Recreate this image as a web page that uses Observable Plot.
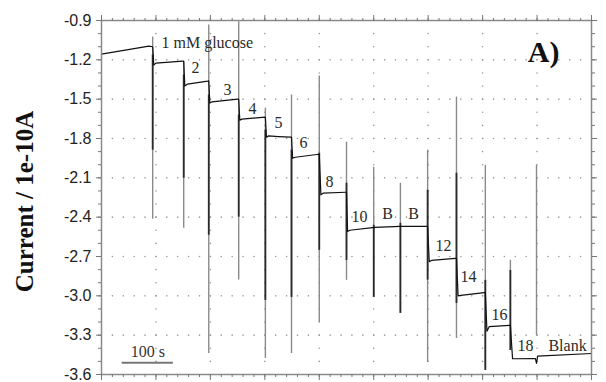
<!DOCTYPE html>
<html>
<head>
<meta charset="utf-8">
<script src="https://cdn.jsdelivr.net/npm/d3@7"></script>
<script src="https://cdn.jsdelivr.net/npm/@observablehq/plot@0.6"></script>
<style>
  html, body { margin: 0; padding: 0; background: #fff; }
  #chart { width: 606px; height: 382px; }
</style>
</head>
<body>
<div id="chart"></div>
<script>
// ---- Data (time in s, current in 1e-10 A) ----
const traceT = [0, 87, 94, 96, 100, 149, 151, 153, 158, 195, 197, 199, 203, 250, 252, 254, 258, 300, 301, 303, 307, 325, 347, 349, 351, 356, 399, 400, 403, 407, 448, 450, 452, 456, 498, 500, 502, 548, 549, 551, 597, 599, 602, 606, 650, 652, 655, 660, 703, 705, 708, 712, 749, 751, 755, 797, 799, 801, 900];
const traceI = [-1.156, -1.095, -1.10, -1.24, -1.225, -1.21, -1.21, -1.40, -1.385, -1.362, -1.36, -1.53, -1.52, -1.50, -1.50, -1.66, -1.652, -1.637, -1.64, -1.79, -1.78, -1.785, -1.79, -1.79, -1.95, -1.943, -1.92, -1.92, -2.23, -2.217, -2.21, -2.21, -2.51, -2.50, -2.48, -2.48, -2.478, -2.47, -2.47, -2.47, -2.47, -2.47, -2.74, -2.73, -2.715, -2.715, -3.00, -2.997, -2.975, -2.975, -3.27, -3.235, -3.225, -3.225, -3.48, -3.478, -3.516, -3.46, -3.44];

// injection events: spike extremes and the dark (dense) part of each spike
const eventT      = [94, 151, 197, 252, 301, 349, 400, 450, 500, 549, 599, 652, 705, 751, 799];
const spikeTop    = [-1.026, -1.217, -0.934, -0.91, -1.568, -1.469, -1.324, -1.828, -2.019, -2.141, -1.889, -1.484, -2.004, -2.729, -2.004];
const spikeBottom = [-2.416, -2.485, -3.44, -2.88, -3.478, -3.44, -3.203, -2.882, -3.012, -3.134, -3.508, -3.325, -3.569, -3.417, -3.302];
const darkTop     = [-1.163, -1.316, -1.469, -1.622, -1.736, -1.889, -1.912, -2.141, -2.462, -2.447, -2.195, -2.065, -2.882, -2.806, -3.50];
const darkBottom  = [-1.889, -2.103, -2.538, -2.40, -3.035, -3.012, -2.653, -2.73, -3.012, -3.134, -2.88, -3.058, -3.569, -3.417, -3.50];

// annotation labels
const stepLabels = ["2", "3", "4", "5", "6", "8", "10", "B", "B", "12", "14", "16", "18", "Blank"];
const stepLabelT = [172.7, 231.4, 277.4, 325.1, 371.0, 418.8, 473.9, 525.4, 573.1, 628.2, 674.1, 731.1, 778.9, 856.0];
const stepLabelI = [-1.263, -1.431, -1.576, -1.683, -1.836, -2.134, -2.401, -2.378, -2.378, -2.622, -2.859, -3.149, -3.378, -3.378];
const firstLabel = "1 mM glucose";
const firstLabelT = 110.2, firstLabelI = -1.072;
const panelLabel = "A)";
const panelLabelT = 812, panelLabelI = -1.141;

// axes
const yMajor = [-0.9, -1.2, -1.5, -1.8, -2.1, -2.4, -2.7, -3.0, -3.3, -3.6];
const yMinor = d3.range(-36, -8).map(v => v / 10);
const xMajor = d3.range(0, 901, 100);
const xMinor = d3.range(0, 901, 20);
const yLabel = "Current / 1e-10A";

// scale bar
const scaleBarText = "100 s";
const scaleBarX1 = 38, scaleBarX2 = 132, scaleBarI = -3.51, scaleBarTextI = -3.43;

// ---- derived tables ----
const trace = traceT.map((t, k) => ({t, i: traceI[k]}));
const spikes = eventT.map((t, k) => ({t, top: spikeTop[k], bottom: spikeBottom[k], dt: darkTop[k], db: darkBottom[k]}));
const labels = stepLabels.map((s, k) => ({s, t: stepLabelT[k], i: stepLabelI[k]}));
const gridDots = [];
for (const y of yMajor.slice(1, -1)) for (const x of xMinor) if (x > 0 && x < 900 && x % 100 !== 0) gridDots.push({x, y});
for (const x of xMajor.slice(1, -1)) for (const y of yMinor) if (y > -3.6 && y < -0.9) gridDots.push({x, y});
for (const x of xMajor.slice(1, -1)) for (const y of yMajor.slice(1, -1)) gridDots.push({x, y});

const serif = "'Liberation Serif', 'Times New Roman', serif";
const sans = "'Liberation Sans', Arial, sans-serif";

const chart = Plot.plot({
  width: 606,
  height: 382,
  marginLeft: 101,
  marginRight: 15,
  marginTop: 20,
  marginBottom: 8,
  x: {domain: [0, 900]},
  y: {domain: [-3.6, -0.9]},
  style: {background: "#fff", color: "#222", fontFamily: sans, fontSize: "16px"},
  marks: [
    Plot.dot(gridDots, {x: "x", y: "y", r: 0.8, fill: "#9a9a9a", stroke: null}),
    // spikes
    Plot.ruleX(spikes, {x: "t", y1: "top", y2: "bottom", stroke: "#8a8a8a", strokeWidth: 1.4}),
    Plot.ruleX(spikes, {x: "t", y1: "dt", y2: "db", stroke: "#2a2a2a", strokeWidth: 1.8}),
    // trace
    Plot.line(trace, {x: "t", y: "i", stroke: "#111", strokeWidth: 1.2}),
    // frame and axes
    Plot.frame({stroke: "#8a8a8a", strokeWidth: 1.5}),
    Plot.axisY({ticks: yMajor, tickSize: 5, tickPadding: 5, stroke: "#777", tickFormat: d => d.toFixed(1), fontSize: 16, fontFamily: sans, label: null}),
    Plot.axisY({ticks: yMinor, tickSize: 3, stroke: "#777", fill: "none", label: null}),
    Plot.axisY({anchor: "right", ticks: yMajor, tickSize: 5, stroke: "#777", fill: "none", label: null}),
    Plot.axisY({anchor: "right", ticks: yMinor, tickSize: 3, stroke: "#777", fill: "none", label: null}),
    Plot.axisX({anchor: "bottom", ticks: xMajor, tickSize: 6, stroke: "#777", fill: "none", label: null}),
    Plot.axisX({anchor: "bottom", ticks: xMinor, tickSize: 3, stroke: "#777", fill: "none", label: null}),
    Plot.axisX({anchor: "top", ticks: xMajor, tickSize: 6, stroke: "#777", fill: "none", label: null}),
    Plot.axisX({anchor: "top", ticks: xMinor, tickSize: 3, stroke: "#777", fill: "none", label: null}),
    // y label
    Plot.text([yLabel], {frameAnchor: "left", textAnchor: "middle", rotate: -90, dx: -77, dy: 4, fontSize: 25, fontWeight: "bold", fontFamily: serif, fill: "#111"}),
    // annotations
    Plot.text([firstLabel], {x: firstLabelT, y: firstLabelI, textAnchor: "start", fontSize: 16, fontFamily: serif, fill: "#2a2a2a"}),
    Plot.text(labels, {x: "t", y: "i", text: "s", fontSize: 16, fontFamily: serif, fill: "#2a2a2a"}),
    Plot.text([panelLabel], {x: panelLabelT, y: panelLabelI, fontSize: 30, fontWeight: "bold", fontFamily: serif, fill: "#111"}),
    // scale bar
    Plot.ruleY([scaleBarI], {x1: scaleBarX1, x2: scaleBarX2, stroke: "#777", strokeWidth: 2}),
    Plot.text([scaleBarText], {x: (scaleBarX1 + scaleBarX2) / 2, y: scaleBarTextI, fontSize: 16, fontFamily: serif, fill: "#333"})
  ]
});
document.getElementById("chart").appendChild(chart);
</script>
</body>
</html>
